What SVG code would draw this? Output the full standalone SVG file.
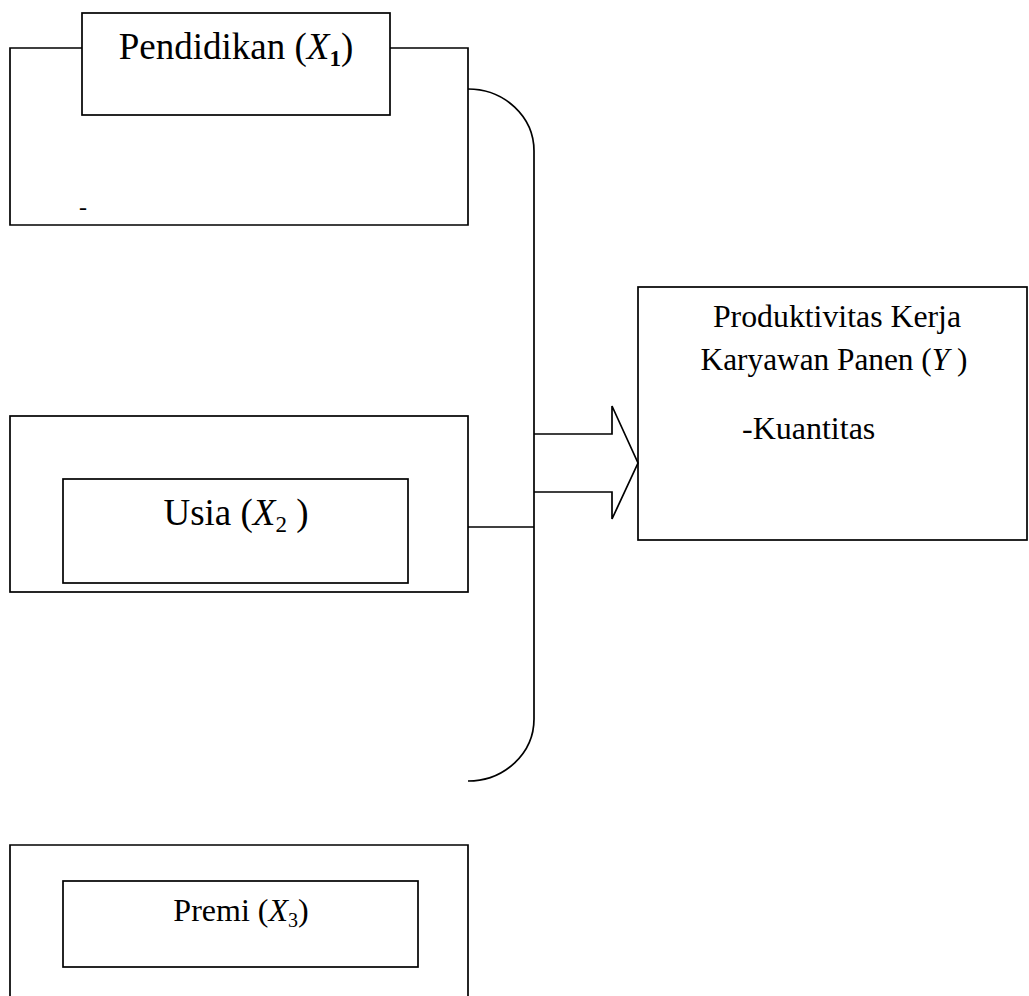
<svg xmlns="http://www.w3.org/2000/svg" width="1029" height="996" viewBox="0 0 1029 996">
<style>
  .box { fill: none; stroke: #000; stroke-width: 1.7; }
  .ln { fill: none; stroke: #000; stroke-width: 1.7; }
  .t { font-family: 'Liberation Serif', 'DejaVu Serif', serif; fill: #000; }
  .it { font-style: italic; }
</style>
<rect width="1029" height="996" fill="#fff"/>

<g id="node-pendidikan">
  <polyline class="box" points="82,48 10,48 10,225 468,225 468,48 390,48"/>
  <rect class="box" x="82" y="13" width="308" height="102"/>
  <text class="t" x="236" y="59" font-size="37" text-anchor="middle">Pendidikan (<tspan class="it">X</tspan><tspan font-size="23" font-weight="bold" dy="7">1</tspan><tspan dy="-7">)</tspan></text>
  <text class="t" x="79" y="215" font-size="24">-</text>
</g>

<g id="node-usia">
  <rect class="box" x="10" y="416" width="458" height="176"/>
  <rect class="box" x="63" y="479" width="345" height="104"/>
  <text class="t" x="236" y="525" font-size="37" text-anchor="middle">Usia (<tspan class="it">X</tspan><tspan font-size="23" dy="7">2</tspan><tspan dy="-7"> )</tspan></text>
</g>

<g id="node-premi">
  <polyline class="box" points="10,1000 10,845 468,845 468,1000"/>
  <rect class="box" x="63" y="881" width="355" height="86"/>
  <text class="t" x="241" y="921" font-size="32" text-anchor="middle">Premi (<tspan class="it">X</tspan><tspan font-size="20" dy="6">3</tspan><tspan dy="-6">)</tspan></text>
</g>

<g id="node-produktivitas">
  <rect class="box" x="638" y="287" width="389" height="253"/>
  <text class="t" x="837" y="327" font-size="31.8" text-anchor="middle">Produktivitas Kerja</text>
  <text class="t" x="834" y="370" font-size="31.3" text-anchor="middle">Karyawan Panen (<tspan class="it">Y</tspan> )</text>
  <text class="t" x="742" y="439" font-size="32">-Kuantitas</text>
</g>

<g id="connectors">
  <path class="ln" d="M468,89 A66,62 0 0 1 534,151 L534,719 A66,62 0 0 1 468,781"/>
  <line class="ln" x1="468" y1="527" x2="534" y2="527"/>
  <polyline class="ln" points="534,434 612,434 612,406 638,463 612,519 612,492 534,492"/>
</g>
</svg>
